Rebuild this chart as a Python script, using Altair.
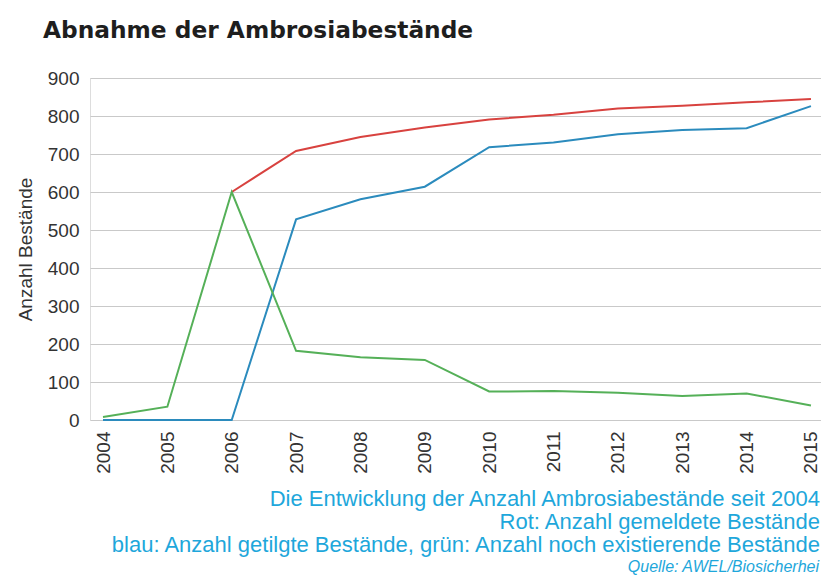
import altair as alt
import pandas as pd

# ---- data ----
jahre = [2004, 2005, 2006, 2007, 2008, 2009, 2010, 2011, 2012, 2013, 2014, 2015]
gemeldet = [None, None, 600, 708, 745, 770, 791, 803, 820, 827, 836, 845]
getilgt = [0, 0, 0, 528, 581, 614, 718, 730, 752, 763, 768, 826]
existierend = [8, 35, 600, 182, 165, 158, 75, 76, 72, 63, 70, 38]

serien = ["Rot", "Blau", "Grün"]
farben = ["#d8423f", "#2b8bbd", "#55b058"]

titel = ["Abnahme der Ambrosiabestände"]
fusszeilen = [
    "Die Entwicklung der Anzahl Ambrosiabestände seit 2004",
    "Rot: Anzahl gemeldete Bestände",
    "blau: Anzahl getilgte Bestände, grün: Anzahl noch existierende Bestände",
]
quelle = ["Quelle: AWEL/Biosicherhei"]

rows = []
for name, werte in zip(serien, [gemeldet, getilgt, existierend]):
    for j, v in zip(jahre, werte):
        if v is not None:
            rows.append({"Jahr": j, "Wert": v, "Serie": name})
df = pd.DataFrame(rows)

W, H = 731, 342
FONT = "Liberation Sans"
TXT = "#1ea7db"

lines = alt.Chart(df).mark_line(strokeWidth=2).encode(
    x=alt.X("Jahr:Q",
            scale=alt.Scale(domain=[2003.798, 2015.156], nice=False, zero=False),
            axis=alt.Axis(values=jahre, format="d", labelAngle=270, labelAlign="right",
                          labelBaseline="middle", labelPadding=11, ticks=False, domain=False,
                          grid=False, title=None, labelFontSize=19, labelFont=FONT,
                          labelColor="#333333", labelOverlap=False)),
    y=alt.Y("Wert:Q",
            scale=alt.Scale(domain=[0, 900], nice=False),
            axis=alt.Axis(values=list(range(0, 1000, 100)), ticks=False, domain=False,
                          grid=True, gridColor="#c9c9c9", gridWidth=1.2,
                          labelFontSize=19, labelFont=FONT, labelColor="#333333",
                          labelPadding=11, title="Anzahl Bestände", titleFontSize=19,
                          titleFont=FONT, titleFontWeight="normal", titleColor="#333333",
                          titlePadding=12)),
    color=alt.Color("Serie:N", scale=alt.Scale(domain=serien, range=farben), legend=None),
    detail="Serie:N",
)

titel_df = pd.DataFrame({"t": titel})
titel_mark = alt.Chart(titel_df).mark_text(
    align="left", baseline="alphabetic", font="DejaVu Sans", fontWeight="bold", fontSize=23.3,
    color="#1e1e1e"
).encode(text="t:N", x=alt.value(-47), y=alt.value(-40))

fuss_df = pd.DataFrame({"t": fusszeilen, "i": [0, 1, 2]})
fuss_mark = alt.Chart(fuss_df).transform_calculate(
    py="428 + datum.i * 23"
).mark_text(
    align="right", baseline="alphabetic", font=FONT, fontSize=22, color=TXT
).encode(text="t:N", x=alt.value(W - 1), y=alt.Y("py:Q", scale=None))

quelle_df = pd.DataFrame({"t": quelle})
quelle_mark = alt.Chart(quelle_df).mark_text(
    align="right", baseline="alphabetic", font=FONT, fontSize=16, fontStyle="italic",
    color=TXT
).encode(text="t:N", x=alt.value(W - 2), y=alt.value(494))

chart = alt.layer(lines, titel_mark, fuss_mark, quelle_mark).properties(
    width=W, height=H,
    autosize=alt.AutoSizeParams(type="none"),
    padding={"left": 82, "top": 70, "right": 0, "bottom": 157},
).configure_view(stroke=None).configure(background="white")

chart.save("out.html", embed_options={"renderer": "svg", "actions": False})
